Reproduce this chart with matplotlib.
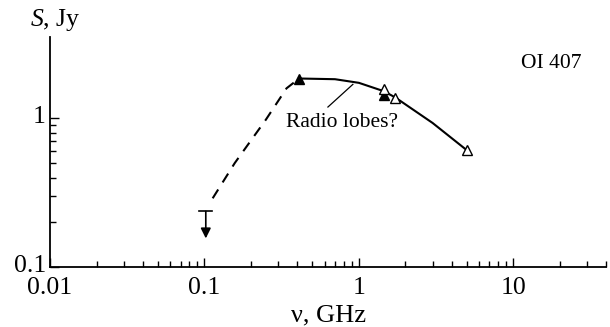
import matplotlib
matplotlib.use("Agg")
import matplotlib.pyplot as plt
from matplotlib.ticker import LogLocator, NullFormatter, FixedLocator, FixedFormatter
from matplotlib.transforms import ScaledTranslation

plt.rcParams['font.family'] = ['Liberation Serif', 'DejaVu Serif']
plt.rcParams['mathtext.fontset'] = 'custom'
plt.rcParams['mathtext.rm'] = 'Liberation Serif'
plt.rcParams['mathtext.it'] = 'Liberation Serif:italic'

# Data
filled_nu = [0.41, 1.45]
filled_S = [1.85, 1.43]
open_nu = [1.45, 1.72, 5.0]
open_S = [1.57, 1.36, 0.61]
solid_nu = [0.41, 0.7, 1.0, 1.45, 1.72, 3.0, 5.0]
solid_S = [1.85, 1.83, 1.73, 1.52, 1.38, 0.93, 0.61]
dashed_nu = [0.113, 0.157, 0.25, 0.34, 0.41]
dashed_S = [0.29, 0.5, 0.98, 1.59, 1.85]
limit_nu = [0.102]
limit_S = [0.237]

fig = plt.figure(figsize=(6.1, 3.27), dpi=100)
ax = fig.add_axes([0.082, 0.183, 0.912, 0.703])
ax.set_xscale('log')
ax.set_yscale('log')
ax.set_xlim(0.01, 40)
ax.set_ylim(0.1, 3.5)

ax.plot(solid_nu, solid_S, color='black', lw=1.5, zorder=2)
ax.plot(dashed_nu, dashed_S, color='black', lw=1.5, ls=(0, (5, 4)), zorder=2)
ax.plot(filled_nu, filled_S, ls='none', marker='^', ms=7, mfc='black', mec='black', zorder=3)
ax.plot(open_nu, open_S, ls='none', marker='^', ms=7, mfc='white', mec='black', mew=1.0, zorder=3)

# upper limit
for x, y in zip(limit_nu, limit_S):
    ax.plot([x * 0.9, x * 1.1], [y, y], color='black', lw=1.2)
    ax.annotate('', xy=(x, 0.156), xytext=(x, y),
                arrowprops=dict(arrowstyle='-|>', color='black', lw=1.2,
                                mutation_scale=15, shrinkA=0, shrinkB=0))

# annotation
ax.plot([0.63, 0.914], [1.19, 1.69], color='black', lw=0.9)
ax.text(0.776, 0.94, 'Radio lobes?', fontsize=15.5, ha='center', va='center')
ax.text(11.2, 2.35, 'OI 407', fontsize=15.5, ha='left', va='center')

for s in ['top', 'right']:
    ax.spines[s].set_visible(False)
for s in ['left', 'bottom']:
    ax.spines[s].set_linewidth(1.3)

ax.xaxis.set_major_locator(FixedLocator([0.01, 0.1, 1, 10]))
ax.xaxis.set_major_formatter(FixedFormatter(['0.01', '0.1', '1', '10']))
ax.xaxis.set_minor_locator(LogLocator(base=10, subs=range(2, 10), numticks=20))
ax.xaxis.set_minor_formatter(NullFormatter())
ax.yaxis.set_major_locator(FixedLocator([0.1, 1]))
ax.yaxis.set_major_formatter(FixedFormatter(['0.1', '1']))
ax.yaxis.set_minor_locator(FixedLocator([0.2, 0.3, 0.4, 0.5, 0.6, 0.7, 0.8, 0.9]))
ax.yaxis.set_minor_formatter(NullFormatter())

ax.tick_params(which='both', direction='in', width=1.0, labelsize=18.5)
ax.tick_params(which='major', length=6.5)
ax.tick_params(which='minor', length=4.3)
ax.tick_params(axis='x', pad=7)
ax.tick_params(axis='y', pad=3)

shift = ScaledTranslation(0, 4 / 100, fig.dpi_scale_trans)
for lab in ax.get_yticklabels():
    lab.set_transform(lab.get_transform() + shift)

ax.set_xlabel('ν, GHz', fontsize=19, labelpad=4)
fig.text(0.09, 0.939, r'$\mathit{S}$, Jy', fontsize=18.5, ha='center', va='center')

fig.savefig('out.png', dpi=100)
